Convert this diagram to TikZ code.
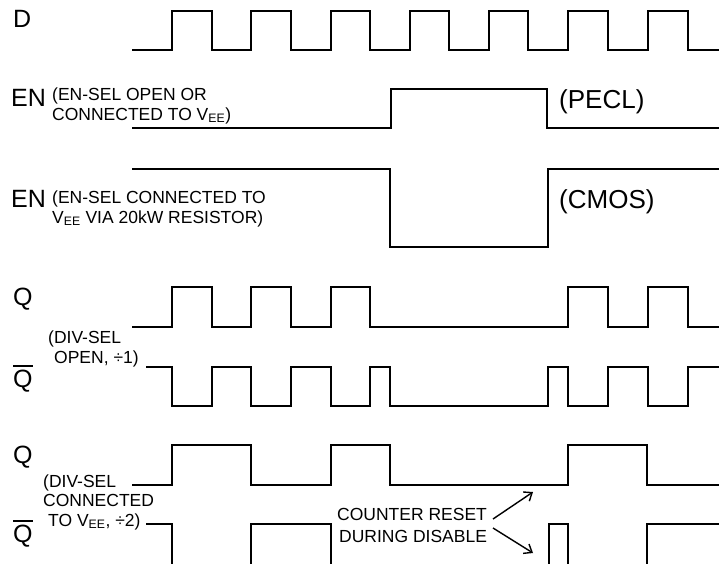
\documentclass[tikz,border=0pt]{standalone}
\usepackage{fontspec}
\setmainfont{Liberation Sans}
\usetikzlibrary{arrows.meta}
\tikzset{
  wave/.style={line width=2.6pt, line join=miter, line cap=butt},
  biglbl/.style={anchor=base west, inner sep=0pt, font=\fontsize{25}{30}\selectfont},
  pecllbl/.style={anchor=base west, inner sep=0pt, font=\fontsize{26}{30}\selectfont},
  smalllbl/.style={anchor=base west, inner sep=0pt, align=left, font=\fontsize{17.5}{19.5}\selectfont},
  ptr/.style={line width=1.4pt, -{Straight Barb[length=7pt,width=11pt]}}
}
\begin{document}
\begin{tikzpicture}[x=1pt,y=-1pt]
\useasboundingbox (0,0) rectangle (719,563);
\clip (0,0) rectangle (719,563);
% D
\draw[wave] (132,50)--(172,50)--(172,11)--(212,11)--(212,50)--(251,50)--(251,11)--(291,11)--(291,50)--(331,50)--(331,11)--(370,11)--(370,50)--(410,50)--(410,11)--(449,11)--(449,50)--(489,50)--(489,11)--(528,11)--(528,50)--(568,50)--(568,11)--(608,11)--(608,50)--(648,50)--(648,11)--(688,11)--(688,50)--(720,50);
% EN PECL
\draw[wave] (132,128)--(391,128)--(391,89)--(547,89)--(547,128)--(720,128);
% EN CMOS
\draw[wave] (132,169)--(390,169)--(390,247)--(548,247)--(548,169)--(720,169);
% Q div 1
\draw[wave] (132,327)--(172,327)--(172,287)--(212,287)--(212,327)--(251,327)--(251,287)--(291,287)--(291,327)--(331,327)--(331,287)--(370,287)--(370,327)--(568,327)--(568,287)--(608,287)--(608,327)--(648,327)--(648,287)--(688,287)--(688,327)--(720,327);
% Qbar div 1
\draw[wave] (146,367)--(172,367)--(172,406)--(212,406)--(212,367)--(251,367)--(251,406)--(291,406)--(291,367)--(331,367)--(331,406)--(370,406)--(370,367)--(390,367)--(390,406)--(548,406)--(548,367)--(568,367)--(568,406)--(608,406)--(608,367)--(648,367)--(648,406)--(688,406)--(688,367)--(720,367);
% Q div 2
\draw[wave] (132,485)--(172,485)--(172,445)--(251,445)--(251,485)--(331,485)--(331,445)--(390,445)--(390,485)--(568,485)--(568,445)--(647,445)--(647,485)--(720,485);
% Qbar div 2
\draw[wave] (146,524)--(172,524)--(172,590)--(251,590)--(251,524)--(331,524)--(331,590)--(549,590)--(549,524)--(568,524)--(568,590)--(647,590)--(647,524)--(720,524);

% labels
\node[biglbl] (lD) at (13,27) {D};
\node[biglbl] (lEN1) at (11,106) {EN};
\node[smalllbl] (lEN1a) at (52,120) {(EN-SEL OPEN OR\\CONNECTED TO V\textsubscript{EE})};
\node[pecllbl] (lPECL) at (559,108) {(PECL)};
\node[biglbl] (lEN2) at (11,207) {EN};
\node[smalllbl] (lEN2a) at (52,223) {(EN-SEL CONNECTED TO\\V\textsubscript{EE} VIA 20kW RESISTOR)};
\node[pecllbl] (lCMOS) at (559,208) {(CMOS)};
\node[biglbl] (lQ1) at (13,305) {Q};
\node[smalllbl] (lDS1a) at (48,363) {(DIV-SEL\\\hspace*{6pt}OPEN, ÷1)};
\node[biglbl] (lQb1) at (13,387) {Q};
\draw[line width=1.8pt] ([yshift=3.5pt]lQb1.north west) -- ([yshift=3.5pt]lQb1.north east);
\node[biglbl] (lQ2) at (13,463) {Q};
\node[smalllbl] (lDS2a) at (43,526) {(DIV-SEL\\CONNECTED\\\hspace*{5pt}TO V\textsubscript{EE}, ÷2)};
\node[biglbl] (lQb2) at (13,542) {Q};
\draw[line width=1.8pt] ([yshift=3.5pt]lQb2.north west) -- ([yshift=3.5pt]lQb2.north east);
\node[smalllbl, font=\fontsize{17.5}{22}\selectfont] (lCR1) at (337,542) {COUNTER RESET\\\hspace*{2pt}DURING DISABLE};
\coordinate (tipA) at (533,492);
\coordinate (tipB) at (533,553);
\coordinate (srcA) at (493,519);
\coordinate (srcB) at (493,528);
\draw[ptr] (srcA) -- (tipA);
\draw[ptr] (srcB) -- (tipB);
\end{tikzpicture}
\end{document}
